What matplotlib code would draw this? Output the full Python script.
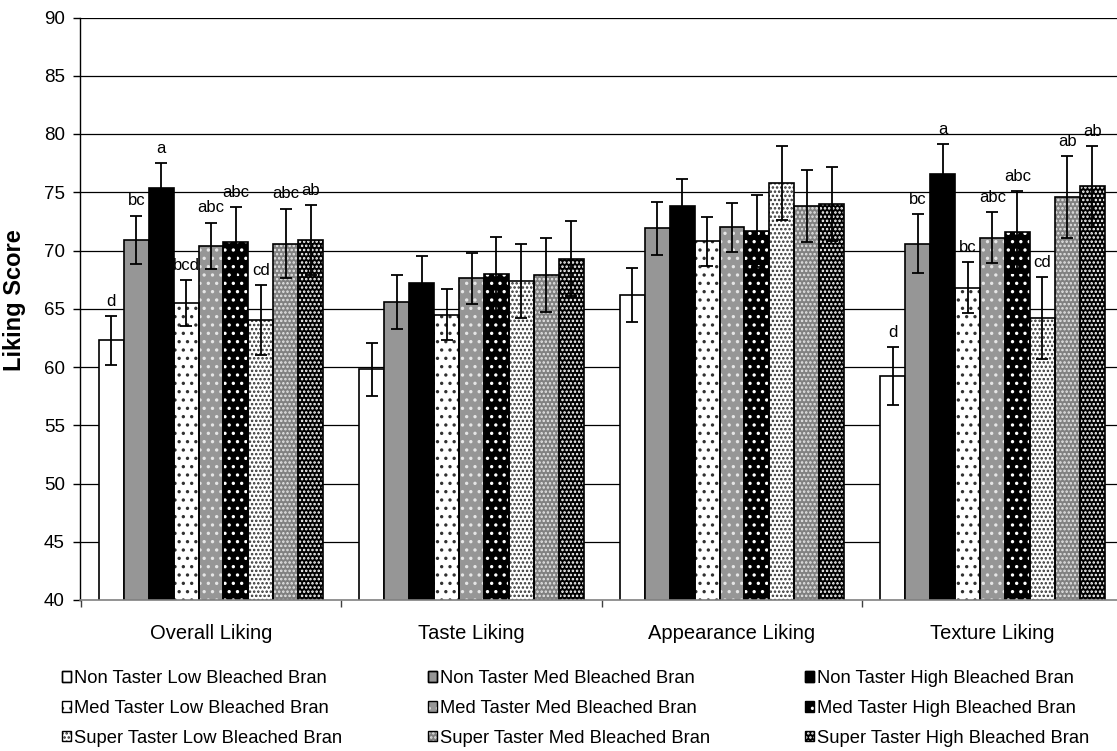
import numpy as np
import matplotlib
matplotlib.use("Agg")
import matplotlib.pyplot as plt
from matplotlib.patches import Rectangle

plt.rcParams["font.family"] = ["Liberation Sans", "DejaVu Sans"]
plt.rcParams["hatch.linewidth"] = 1.2

categories = ["Overall Liking", "Taste Liking", "Appearance Liking", "Texture Liking"]

series = [
    "Non Taster Low Bleached Bran",
    "Non Taster Med Bleached Bran",
    "Non Taster High Bleached Bran",
    "Med Taster Low Bleached Bran",
    "Med Taster Med Bleached Bran",
    "Med Taster High Bleached Bran",
    "Super Taster Low Bleached Bran",
    "Super Taster Med Bleached Bran",
    "Super Taster High Bleached Bran",
]

# mean liking scores, one list per series (Overall, Taste, Appearance, Texture)
nt_low = [62.3, 59.8, 66.2, 59.2]
nt_med = [70.9, 65.6, 71.9, 70.6]
nt_high = [75.4, 67.2, 73.8, 76.6]
mt_low = [65.5, 64.5, 70.8, 66.8]
mt_med = [70.4, 67.6, 72.0, 71.1]
mt_high = [70.7, 68.0, 71.7, 71.6]
st_low = [64.0, 67.4, 75.8, 64.2]
st_med = [70.6, 67.9, 73.8, 74.6]
st_high = [70.9, 69.3, 74.0, 75.5]

# standard errors
nt_low_se = [2.1, 2.3, 2.3, 2.5]
nt_med_se = [2.1, 2.3, 2.3, 2.5]
nt_high_se = [2.1, 2.3, 2.3, 2.5]
mt_low_se = [2.0, 2.2, 2.1, 2.2]
mt_med_se = [2.0, 2.2, 2.1, 2.2]
mt_high_se = [3.0, 3.2, 3.1, 3.5]
st_low_se = [3.0, 3.2, 3.2, 3.5]
st_med_se = [3.0, 3.2, 3.1, 3.5]
st_high_se = [3.0, 3.2, 3.2, 3.5]

# significance letters
nt_low_sig = ["d", "", "", "d"]
nt_med_sig = ["bc", "", "", "bc"]
nt_high_sig = ["a", "", "", "a"]
mt_low_sig = ["bcd", "", "", "bc"]
mt_med_sig = ["abc", "", "", "abc"]
mt_high_sig = ["abc", "", "", "abc"]
st_low_sig = ["cd", "", "", "cd"]
st_med_sig = ["abc", "", "", "ab"]
st_high_sig = ["ab", "", "", "ab"]

yticks = [40, 45, 50, 55, 60, 65, 70, 75, 80, 85, 90]

means = [nt_low, nt_med, nt_high, mt_low, mt_med, mt_high, st_low, st_med, st_high]
errs = [nt_low_se, nt_med_se, nt_high_se, mt_low_se, mt_med_se, mt_high_se,
        st_low_se, st_med_se, st_high_se]
sigs = [nt_low_sig, nt_med_sig, nt_high_sig, mt_low_sig, mt_med_sig, mt_high_sig,
        st_low_sig, st_med_sig, st_high_sig]

# fill colour, dot colour, dot hatch for each series
WHITE, GRAY, BLACK = "#ffffff", "#969696", "#000000"
styles = [
    (WHITE, None, None),
    (GRAY, None, None),
    (BLACK, None, None),
    (WHITE, "#303030", ".."),
    (GRAY, "#e6e6e6", ".."),
    (BLACK, "#ffffff", ".."),
    (WHITE, "#303030", "...."),
    ("#808080", "#e6e6e6", "...."),
    (BLACK, "#ffffff", "...."),
]

W, H, DPI = 1117, 751, 100
fig = plt.figure(figsize=(W / DPI, H / DPI), dpi=DPI)
ax = fig.add_axes([80 / W, (H - 600) / H, 1 - 80 / W, (600 - 17.5) / H])

x = np.arange(len(categories))
bw = 0.0956
n = len(series)
handles = []
for i in range(n):
    face, dot, hatch = styles[i]
    xs = x + (i - (n - 1) / 2) * bw
    if hatch:
        ax.bar(xs, means[i], bw, bottom=0, color=face, edgecolor=dot,
               hatch=hatch, linewidth=0, zorder=2)
    ax.bar(xs, means[i], bw, bottom=0, facecolor="none" if hatch else face,
           edgecolor="black", linewidth=1.2, zorder=3)
    ax.errorbar(xs, means[i], yerr=errs[i], fmt="none", ecolor="black",
                elinewidth=1.3, capsize=4.5, capthick=1.3, zorder=4)
    for xx, m, e, s in zip(xs, means[i], errs[i], sigs[i]):
        if s:
            ax.text(xx, m + e + 1.25, s, ha="center", va="center",
                    fontsize=12, zorder=1.5)
    # legend key
    base = Rectangle((0, 0), 1, 1, facecolor=face,
                     edgecolor=dot if hatch else "black",
                     hatch=hatch, linewidth=0 if hatch else 1.0)
    outline = Rectangle((0, 0), 1, 1, facecolor="none", edgecolor="black", linewidth=1.0)
    handles.append((base, outline))

ax.set_ylim(40, 90)
ax.set_xlim(-0.503, 3.478)
ax.set_yticks(yticks)
ax.tick_params(axis="y", direction="out", length=5, width=1, labelsize=13.5, pad=6)
ax.set_xticks(x)
ax.set_xticklabels(categories)
ax.set_xticks(np.arange(len(categories)) - 0.5, minor=True)
ax.tick_params(axis="x", which="major", length=0, labelsize=14.5, pad=17)
ax.tick_params(axis="x", which="minor", direction="out", length=5, width=1, color="#404040")

for t in yticks[1:]:
    ax.axhline(t, color="black", linewidth=0.9, zorder=1)

for side in ("top", "right"):
    ax.spines[side].set_visible(False)
ax.spines["left"].set_linewidth(1.0)
ax.spines["bottom"].set_color("#808080")
ax.spines["bottom"].set_linewidth(1.2)
ax.spines["bottom"].set_zorder(5)

ax.set_ylabel("Liking Score", fontsize=17, fontweight="bold", labelpad=8)
ax.yaxis.set_label_coords(-0.052, 0.515)

# one legend column per bran level (Low / Med / High), taster groups down
for col, left_px in enumerate([62, 428, 805]):
    idx = [col, col + 3, col + 6]
    fig.legend([handles[k] for k in idx], [series[k] for k in idx],
               loc="upper left", bbox_to_anchor=(left_px / W, 1 - 670 / H),
               frameon=False, fontsize=13.2, handlelength=0.5, handleheight=0.5,
               handletextpad=0.15, labelspacing=0.7,
               borderpad=0, borderaxespad=0)

fig.savefig("out.png", dpi=DPI)
